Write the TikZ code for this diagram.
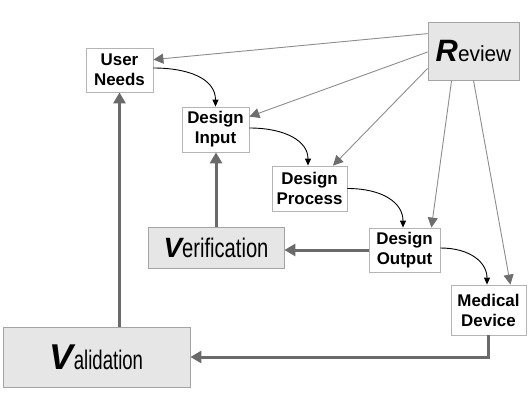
\documentclass[tikz,border=0pt]{standalone}
\usepackage{fontspec}
\setmainfont{Liberation Sans}
\usetikzlibrary{arrows.meta,calc}
\definecolor{boxgray}{HTML}{E6E6E6}
\definecolor{wborder}{HTML}{B4B4B4}
\definecolor{gborder}{HTML}{A4A4A4}
\definecolor{thickline}{HTML}{6A6A6A}
\definecolor{revline}{HTML}{8C8C8C}
\definecolor{revtip}{HTML}{6E6E6E}
\begin{document}
\begin{tikzpicture}[x=1bp,y=1bp,
  wbox/.style={draw=wborder, fill=white, line width=0.8bp, inner sep=0pt, align=center,
    font=\fontsize{17}{20}\selectfont\bfseries},
  gbox/.style={draw=gborder, fill=boxgray, line width=0.8bp, inner sep=0pt},
  thickarrow/.style={draw=thickline, line width=3bp, -{Triangle[length=11bp,width=12bp]}},
  revarrow/.style={draw=revline, line width=0.9bp, -{Triangle[length=10bp,width=10bp,color=revtip]}},
  flowarrow/.style={draw=black, line width=0.9bp, -{Triangle[length=7bp,width=6bp]}}]
\useasboundingbox (0,0) rectangle (530,402);

% nodes
\node[wbox, minimum width=67bp, minimum height=44bp] (un) at (119.5,332) {User\\Needs};
\node[wbox, minimum width=67bp, minimum height=45bp] (di) at (215.5,272.5) {Design\\Input};
\node[wbox, minimum width=75bp, minimum height=45bp] (dp) at (309.5,213.5) {Design\\Process};
\node[wbox, minimum width=71bp, minimum height=44bp] (do) at (404.5,152) {Design\\Output};
\node[wbox, minimum width=75bp, minimum height=50bp] (md) at (488.5,92) {Medical\\Device};
\node[gbox, minimum width=91bp, minimum height=58bp] (rev) at (473.5,351)
  {{\fontsize{31}{31}\selectfont\bfseries\itshape R}{\fontsize{22}{22}\selectfont\scalebox{0.95}[1]{eview}}};
\node[gbox, minimum width=136bp, minimum height=41bp] (ver) at (216,154.5)
  {{\fontsize{28}{28}\selectfont\bfseries\itshape V}{\fontsize{27}{27}\selectfont\scalebox{0.75}[1]{erification}}};
\node[gbox, minimum width=187bp, minimum height=60bp] (val) at (96.5,45)
  {{\fontsize{36}{36}\selectfont\bfseries\itshape V}{\fontsize{27}{27}\selectfont\scalebox{0.69}[1]{alidation}}};

% review arrows
\draw[revarrow] ($(rev.north west)+(0,-12)$) -- ($(un.north east)+(0,-12)$);
\draw[revarrow] ($(rev.west)+(0,-1)$) -- ($(di.north east)+(0,-10)$);
\draw[revarrow] ($(rev.south west)+(0,12)$) -- ($(dp.north)+(23.5,0)$);
\draw[revarrow] ($(rev.south west)+(24,0)$) -- ($(do.north east)+(-9,0)$);
\draw[revarrow] (rev.south) -- ($(md.north east)+(-16,0)$);

% flow arrows
\draw[flowarrow] ($(un.east)+(0,2)$) .. controls +(35,0) and +(0,28) .. (di.north);
\draw[flowarrow] ($(di.east)+(0,1.5)$) .. controls +(35,0) and +(0,25) .. ($(dp.north)+(-1.5,0)$);
\draw[flowarrow] (dp.east) .. controls +(35,0) and +(0,25) .. ($(do.north)+(-1.5,0)$);
\draw[flowarrow] ($(do.east)+(0,2)$) .. controls +(30,0) and +(0,22) .. ($(md.north)+(-1.5,0)$);

% thick arrows
\draw[thickarrow] (ver.north) -- (ver.north |- di.south);
\draw[thickarrow] (do.west) -- (do.west -| ver.east);
\draw[thickarrow] (md.south) |- (val.east);
\draw[thickarrow] (un.south |- val.north) -- (un.south);
\end{tikzpicture}
\end{document}
